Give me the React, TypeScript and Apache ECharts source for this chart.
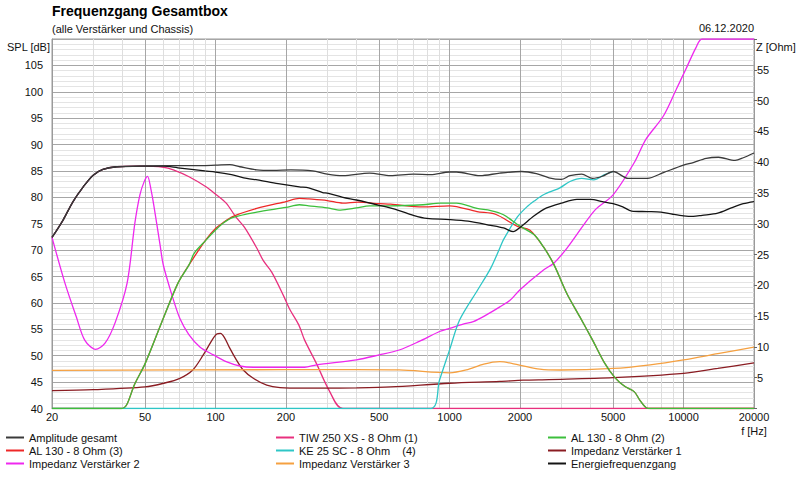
import React, { useEffect, useRef } from "react";
import * as echarts from "echarts";

const FONT = "'Liberation Sans', Arial, Helvetica, sans-serif";

// ---- axis ticks ----
const majorFreqs = [20, 50, 100, 200, 500, 1000, 2000, 5000, 10000, 20000];
const minorFreqs = [30, 40, 60, 70, 80, 90, 300, 400, 600, 700, 800, 900, 3000, 4000, 6000, 7000, 8000, 9000];

// ---- Amplitude gesamt (dB) ----
const ampFreq = [20, 22.3, 24.6, 27.2, 30, 33, 37.8, 47.5, 60, 80, 100, 115, 127, 150, 176, 210, 260, 300, 350, 455, 560, 700, 830, 1000, 1070, 1350, 1640, 2030, 2350, 2660, 3000, 3270, 3670, 4080, 4500, 5000, 5800, 7000, 8200, 10000, 11000, 12500, 14100, 16600, 18000, 20000];
const ampDb = [72.4, 75.7, 79.2, 82, 84.2, 85.3, 85.8, 85.9, 86, 86, 86.1, 86.2, 85.8, 85.2, 85.1, 85.2, 85.0, 84.4, 84.1, 84.6, 84.1, 84.4, 84.3, 84.8, 84.8, 84.1, 84.6, 84.9, 84.5, 83.7, 83.4, 84.1, 84.4, 83.6, 84.0, 84.9, 83.6, 83.6, 84.7, 86.1, 86.6, 87.4, 87.6, 87.0, 87.5, 88.4];

// ---- TIW 250 XS - 8 Ohm (1) (dB) ----
const tiwFreq = [20, 22.3, 24.6, 27.2, 30, 33, 37.8, 47.5, 60, 66, 77, 91, 100, 111, 122, 133, 150, 160, 174, 196, 208, 227, 240, 270, 306, 350, 20000];
const tiwDb = [72.4, 75.7, 79.2, 82, 84.2, 85.3, 85.8, 85.9, 85.7, 85.2, 83.9, 82.0, 80.6, 78.9, 76.3, 74.3, 70.4, 68.0, 65.8, 61.2, 58.7, 55.8, 53.0, 48.5, 43.4, 40, 40];

// ---- AL 130 - 8 Ohm (2) (dB) ----
const al2Freq = [20, 39.6, 41.7, 45, 50, 58.6, 69, 77, 81, 91, 100, 107.6, 119, 150, 200, 228, 250, 300, 342, 400, 455, 560, 770, 910, 1070, 1310, 1500, 1700, 1990, 2300, 2520, 2790, 3170, 3600, 4080, 4600, 5100, 5600, 6150, 6500, 6900, 7200, 20000];
const al2Db = [40, 40, 40.7, 44.5, 48.5, 56.1, 63.7, 67.2, 69.4, 71.9, 73.8, 75.1, 76.2, 77.2, 78.1, 78.6, 78.4, 78.0, 77.6, 78.0, 78.4, 78.4, 78.6, 78.9, 78.9, 77.9, 77.5, 76.7, 74.6, 72.9, 70.6, 67.3, 61.8, 57.4, 53, 48.6, 45.8, 44.2, 43.2, 41.6, 40.2, 40, 40];

// ---- AL 130 - 8 Ohm (3) (dB) ----
const al3Freq = [20, 39.6, 41.7, 45, 50, 58.6, 69, 77, 91, 100, 107.6, 119, 150, 200, 228, 250, 300, 350, 406, 500, 560, 770, 1000, 1310, 1570, 1950, 2200, 2520, 2790, 3170, 3600, 4080, 4600, 5100, 5600, 6150, 6500, 6900, 7200, 20000];
const al3Db = [40, 40, 40.7, 44.5, 48.5, 56.1, 63.7, 67.2, 72.0, 74.1, 75.2, 76.4, 77.9, 79.2, 79.8, 79.7, 79.4, 78.9, 79.1, 78.8, 78.7, 78.2, 78.4, 77.3, 76.8, 74.5, 73.8, 70.6, 67.3, 61.8, 57.4, 53, 48.6, 45.8, 44.2, 43.2, 41.6, 40.2, 40, 40];

// ---- KE 25 SC - 8 Ohm (4) (dB) — above 5 kHz it lies under "Amplitude gesamt" ----
const keFreq = [20, 830, 906, 1000, 1105, 1320, 1500, 1640, 1700, 1950, 2140, 2300, 2520, 2960, 3270, 3670, 4130, 4600, 5000];
const keDb = [40, 40, 45.4, 51.1, 56.8, 62.5, 66.6, 70.4, 72, 76.3, 78.2, 79.3, 80.5, 81.8, 83.0, 83.6, 83.3, 84.3, 84.9];

// ---- Impedanz Verstärker 1 (Ohm) ----
const imp1Freq = [20, 30, 50, 60, 70.4, 80.1, 88.6, 96.6, 101.2, 105, 109.6, 115, 122.7, 131, 145, 165.5, 188.6, 240, 287, 400, 560, 1000, 1640, 2060, 2660, 5000, 10000, 14000, 20000];
const imp1Ohm = [2.9, 3.05, 3.5, 4.1, 4.9, 6.3, 8.7, 11.1, 12.1, 12.2, 11.4, 9.8, 7.9, 6.3, 4.9, 3.8, 3.4, 3.3, 3.3, 3.35, 3.5, 4.1, 4.4, 4.6, 4.7, 5.0, 5.7, 6.5, 7.4];

// ---- Impedanz Verstärker 2 (Ohm) ----
const imp2Freq = [20, 22.7, 25.4, 27.6, 30.7, 33.7, 37.2, 41.9, 45.2, 47.5, 49.5, 51.2, 53, 54.4, 57.9, 59.8, 65, 70.4, 76.9, 85.7, 98, 111, 127, 145, 185, 240, 270, 400, 500, 609, 742, 906, 1000, 1143, 1263, 1438, 1640, 1818, 2000, 2520, 2790, 3170, 3710, 4200, 5000, 6150, 6900, 8200, 9300, 10200, 11300, 12000, 20000];
const imp2Ohm = [27.8, 20.4, 14.9, 11.1, 9.6, 10.6, 13.9, 20.4, 30.1, 34.7, 36.8, 37.7, 35.5, 33.1, 26.6, 23.3, 18.5, 14.6, 12.0, 10.0, 8.7, 7.6, 6.9, 6.7, 6.7, 6.7, 7.1, 7.9, 8.7, 9.5, 10.9, 12.5, 13.0, 13.7, 14.1, 15.2, 16.5, 17.6, 19.3, 22.5, 23.6, 26, 29.6, 32.3, 34.7, 39.9, 43.7, 47.5, 51.8, 55, 58.6, 60, 60];

// ---- Impedanz Verstärker 3 (Ohm) ----
const imp3Freq = [20, 200, 400, 609, 1000, 1178, 1400, 1640, 1970, 2430, 2960, 5000, 7200, 10000, 14000, 20000];
const imp3Ohm = [6.2, 6.3, 6.3, 6.26, 5.8, 6.26, 7.2, 7.6, 7.1, 6.4, 6.25, 6.5, 7.1, 7.9, 8.9, 9.95];

// ---- Energiefrequenzgang (dB) ----
const energyFreq = [20, 22.3, 24.6, 27.2, 30, 33, 37.8, 47.5, 60, 69, 79, 90, 100, 117, 136, 151, 185, 228, 250, 287, 300, 350, 400, 500, 600, 700, 800, 1000, 1200, 1500, 1700, 1870, 2000, 2300, 2600, 3000, 3500, 4000, 4500, 5000, 5500, 6000, 7000, 8000, 9000, 10000, 11000, 12000, 14000, 16000, 18000, 20000];
const energyDb = [72.4, 75.7, 79.2, 82, 84.2, 85.3, 85.8, 85.9, 85.9, 85.6, 85.3, 85.0, 84.8, 84.3, 83.6, 83.3, 82.6, 82.0, 81.8, 80.9, 80.8, 80.0, 79.5, 78.5, 77.6, 76.6, 76.0, 75.8, 75.5, 74.7, 74.2, 73.5, 74.3, 76.5, 78.0, 78.9, 79.6, 79.6, 79.2, 78.8, 78.2, 77.4, 77.3, 77.2, 76.8, 76.5, 76.4, 76.6, 77.0, 78.0, 78.8, 79.2];

const pts = (freqs: number[], vals: number[]) => freqs.map((f, i) => [Math.log10(f), vals[i]]);

const LOG_MIN = Math.log10(20);
const LOG_MAX = Math.log10(20000);

export default function App() {
  const ref = useRef<HTMLDivElement>(null);

  useEffect(() => {
    if (!ref.current) return;
    const chart = echarts.init(ref.current, undefined, { renderer: "svg" });

    const line = (name: string, color: string, data: number[][], yAxisIndex: number, z: number) => ({
      name,
      type: "line",
      xAxisIndex: 1,
      yAxisIndex,
      data,
      symbol: "none",
      showSymbol: false,
      smooth: 0.3,
      z,
      lineStyle: { color, width: 1.3 },
      itemStyle: { color },
      emphasis: { disabled: true },
    });

    const legendCommon = {
      orient: "vertical",
      top: 432,
      padding: 0,
      itemGap: 2,
      itemWidth: 18,
      itemHeight: 2,
      icon: "rect",
      selectedMode: false,
      textStyle: { fontSize: 11, color: "#111", fontFamily: FONT },
    };

    const majorLog = majorFreqs.map((f) => Math.log10(f));
    const minorLog = minorFreqs.map((f) => Math.log10(f));

    chart.setOption({
      animation: false,
      backgroundColor: "#ffffff",
      textStyle: { fontFamily: FONT },
      title: [
        {
          text: "Frequenzgang Gesamtbox",
          subtext: "(alle Verstärker und Chassis)",
          left: 52,
          top: 4,
          padding: 0,
          itemGap: 5,
          textStyle: { fontSize: 14, fontWeight: "bold", color: "#000", fontFamily: FONT },
          subtextStyle: { fontSize: 11, color: "#111", fontFamily: FONT },
        },
        {
          text: "06.12.2020",
          right: 46,
          top: 22,
          padding: 0,
          textStyle: { fontSize: 11, fontWeight: "normal", color: "#111", fontFamily: FONT },
        },
      ],
      legend: [
        { ...legendCommon, left: 6, data: ["Amplitude gesamt", "AL 130 - 8 Ohm (3)", "Impedanz Verstärker 2"] },
        { ...legendCommon, left: 276, data: ["TIW 250 XS - 8 Ohm (1)", "KE 25 SC - 8 Ohm    (4)", "Impedanz Verstärker 3"] },
        { ...legendCommon, left: 548, data: ["AL 130 - 8 Ohm (2)", "Impedanz Verstärker 1", "Energiefrequenzgang"] },
      ],
      grid: {
        left: 52,
        right: 46,
        top: 39,
        bottom: 68.5,
        show: true,
        borderColor: "#9a9a9a",
        borderWidth: 1,
        backgroundColor: "#ffffff",
      },
      xAxis: [
        {
          type: "value",
          min: LOG_MIN,
          max: LOG_MAX,
          position: "bottom",
          axisLine: { show: false },
          axisLabel: { show: false },
          axisTick: { show: false, customValues: minorLog },
          splitLine: { show: true, lineStyle: { color: "#dedede", width: 1 } },
        },
        {
          type: "value",
          min: LOG_MIN,
          max: LOG_MAX,
          position: "bottom",
          name: "f [Hz]",
          nameLocation: "end",
          nameGap: 0,
          nameTextStyle: { fontSize: 11, color: "#111", align: "center", verticalAlign: "top", padding: [17, 0, 0, 0] },
          axisLine: { show: true, lineStyle: { color: "#9a9a9a" } },
          axisTick: { show: false, customValues: majorLog },
          axisLabel: {
            customValues: majorLog,
            fontSize: 11,
            color: "#111",
            margin: 3,
            formatter: (v: number) => String(Math.round(Math.pow(10, v))),
          },
          splitLine: { show: true, lineStyle: { color: "#a6a6a6", width: 1 } },
        },
      ],
      yAxis: [
        {
          type: "value",
          min: 40,
          max: 110,
          interval: 5,
          position: "left",
          name: "SPL [dB]",
          nameLocation: "end",
          nameGap: 0,
          nameTextStyle: { fontSize: 11, color: "#111", align: "right", verticalAlign: "top", padding: [2, 2, 0, 0] },
          axisLine: { show: true, lineStyle: { color: "#9a9a9a" } },
          axisTick: { show: false },
          axisLabel: {
            fontSize: 11,
            color: "#111",
            margin: 9,
            formatter: (v: number) => (v === 110 ? "" : String(v)),
          },
          splitLine: { show: true, lineStyle: { color: "#a6a6a6", width: 1 } },
          minorTick: { show: false, splitNumber: 5 },
          minorSplitLine: { show: true, lineStyle: { color: "#e4e4e4", width: 1 } },
        },
        {
          type: "value",
          min: 0,
          max: 60,
          interval: 5,
          position: "right",
          name: "Z [Ohm]",
          nameLocation: "end",
          nameGap: 0,
          nameTextStyle: { fontSize: 11, color: "#111", align: "left", verticalAlign: "top", padding: [2, 0, 0, 2] },
          axisLine: { show: true, lineStyle: { color: "#9a9a9a" } },
          axisTick: { show: true, inside: false, length: 3, lineStyle: { color: "#666" } },
          axisLabel: {
            fontSize: 11,
            color: "#111",
            margin: 3,
            formatter: (v: number) => (v === 0 || v === 60 ? "" : String(v)),
          },
          splitLine: { show: false },
        },
      ],
      series: [
        line("Amplitude gesamt", "#3a3a3a", pts(ampFreq, ampDb), 0, 6),
        line("TIW 250 XS - 8 Ohm (1)", "#e8307e", pts(tiwFreq, tiwDb), 0, 2),
        line("AL 130 - 8 Ohm (2)", "#3cbf3c", pts(al2Freq, al2Db), 0, 4),
        line("AL 130 - 8 Ohm (3)", "#ee2828", pts(al3Freq, al3Db), 0, 3),
        line("KE 25 SC - 8 Ohm    (4)", "#2ec6c6", pts(keFreq, keDb), 0, 3),
        line("Impedanz Verstärker 1", "#8a1c22", pts(imp1Freq, imp1Ohm), 1, 2),
        line("Impedanz Verstärker 2", "#ee28ee", pts(imp2Freq, imp2Ohm), 1, 2),
        line("Impedanz Verstärker 3", "#f5a040", pts(imp3Freq, imp3Ohm), 1, 2),
        line("Energiefrequenzgang", "#141414", pts(energyFreq, energyDb), 0, 5),
      ],
    });

    return () => chart.dispose();
  }, []);

  return (
    <div
      ref={ref}
      style={{ position: "absolute", left: 0, top: 0, width: 800, height: 477, background: "#fff" }}
    />
  );
}
